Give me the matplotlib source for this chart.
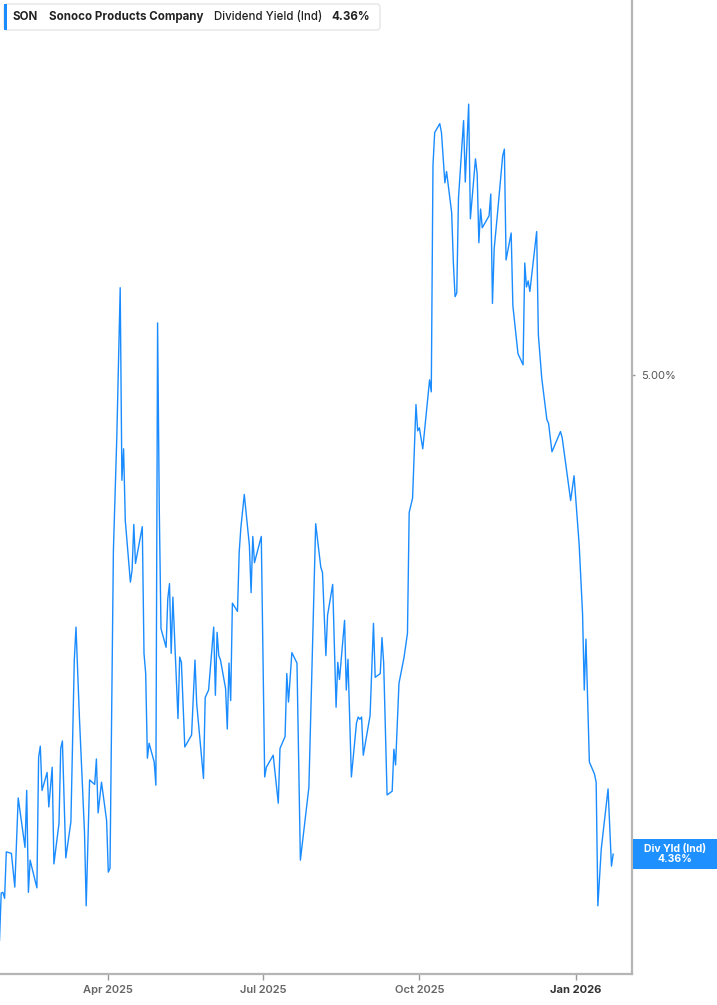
import matplotlib
matplotlib.use("Agg")
import matplotlib.pyplot as plt
from matplotlib.patches import FancyBboxPatch, Rectangle
import pandas as pd

plt.rcParams['font.family'] = ['Inter', 'DejaVu Sans']

# dividend yield (%)
dates = [
    "2025-01-27", "2025-01-28", "2025-01-29", "2025-01-30", "2025-01-31", "2025-02-03",
    "2025-02-05", "2025-02-07", "2025-02-11", "2025-02-12", "2025-02-13", "2025-02-14",
    "2025-02-18", "2025-02-19", "2025-02-20", "2025-02-21", "2025-02-24", "2025-02-25",
    "2025-02-27", "2025-02-28", "2025-03-03", "2025-03-04", "2025-03-05", "2025-03-07",
    "2025-03-10", "2025-03-12", "2025-03-13", "2025-03-15", "2025-03-18", "2025-03-19",
    "2025-03-21", "2025-03-24", "2025-03-25", "2025-03-26", "2025-03-28", "2025-03-31",
    "2025-04-01", "2025-04-02", "2025-04-04", "2025-04-06", "2025-04-08", "2025-04-09",
    "2025-04-10", "2025-04-11", "2025-04-14", "2025-04-15", "2025-04-16", "2025-04-17",
    "2025-04-21", "2025-04-22", "2025-04-23", "2025-04-24", "2025-04-25", "2025-04-28",
    "2025-04-29", "2025-04-30", "2025-05-01", "2025-05-02", "2025-05-05", "2025-05-06",
    "2025-05-07", "2025-05-08", "2025-05-09", "2025-05-12", "2025-05-13", "2025-05-14",
    "2025-05-16", "2025-05-20", "2025-05-22", "2025-05-23", "2025-05-27", "2025-05-28",
    "2025-05-30", "2025-06-02", "2025-06-03", "2025-06-04", "2025-06-05", "2025-06-06",
    "2025-06-09", "2025-06-10", "2025-06-11", "2025-06-12", "2025-06-13", "2025-06-16",
    "2025-06-17", "2025-06-18", "2025-06-20", "2025-06-23", "2025-06-24", "2025-06-25",
    "2025-06-26", "2025-06-30", "2025-07-02", "2025-07-03", "2025-07-07", "2025-07-10",
    "2025-07-11", "2025-07-14", "2025-07-15", "2025-07-16", "2025-07-18", "2025-07-21",
    "2025-07-23", "2025-07-28", "2025-08-01", "2025-08-04", "2025-08-05", "2025-08-07",
    "2025-08-08", "2025-08-11", "2025-08-13", "2025-08-14", "2025-08-15", "2025-08-18",
    "2025-08-19", "2025-08-20", "2025-08-22", "2025-08-25", "2025-08-26", "2025-08-27",
    "2025-08-28", "2025-08-29", "2025-09-02", "2025-09-04", "2025-09-05", "2025-09-08",
    "2025-09-09", "2025-09-10", "2025-09-12", "2025-09-15", "2025-09-16", "2025-09-17",
    "2025-09-19", "2025-09-22", "2025-09-24", "2025-09-25", "2025-09-27", "2025-09-29",
    "2025-09-30", "2025-10-01", "2025-10-03", "2025-10-07", "2025-10-08", "2025-10-09",
    "2025-10-10", "2025-10-13", "2025-10-14", "2025-10-16", "2025-10-17", "2025-10-20",
    "2025-10-21", "2025-10-22", "2025-10-23", "2025-10-24", "2025-10-27", "2025-10-28",
    "2025-10-30", "2025-10-31", "2025-11-03", "2025-11-04", "2025-11-05", "2025-11-06",
    "2025-11-07", "2025-11-11", "2025-11-12", "2025-11-13", "2025-11-14", "2025-11-16",
    "2025-11-19", "2025-11-20", "2025-11-21", "2025-11-24", "2025-11-25", "2025-11-28",
    "2025-12-01", "2025-12-02", "2025-12-03", "2025-12-04", "2025-12-05", "2025-12-09",
    "2025-12-10", "2025-12-12", "2025-12-15", "2025-12-16", "2025-12-18", "2025-12-23",
    "2025-12-24", "2025-12-29", "2025-12-31", "2026-01-03", "2026-01-05", "2026-01-06",
    "2026-01-07", "2026-01-09", "2026-01-12", "2026-01-13", "2026-01-14", "2026-01-16",
    "2026-01-20", "2026-01-22", "2026-01-23",
]
yield_pct = [
    4.245, 4.308, 4.309, 4.301, 4.363, 4.361,
    4.316, 4.435, 4.369, 4.445, 4.309, 4.352,
    4.315, 4.489, 4.504, 4.445, 4.469, 4.423,
    4.476, 4.347, 4.401, 4.501, 4.511, 4.355,
    4.403, 4.619, 4.663, 4.543, 4.389, 4.291,
    4.459, 4.453, 4.487, 4.415, 4.456, 4.405,
    4.336, 4.341, 4.765, 4.916, 5.116, 4.859,
    4.901, 4.805, 4.723, 4.739, 4.800, 4.748,
    4.797, 4.628, 4.601, 4.488, 4.508, 4.483,
    4.452, 5.069, 4.819, 4.661, 4.636, 4.701,
    4.721, 4.628, 4.703, 4.541, 4.623, 4.616,
    4.503, 4.519, 4.619, 4.561, 4.461, 4.569,
    4.579, 4.663, 4.572, 4.656, 4.625, 4.619,
    4.581, 4.527, 4.615, 4.565, 4.695, 4.684,
    4.763, 4.796, 4.840, 4.772, 4.709, 4.784,
    4.749, 4.784, 4.463, 4.476, 4.492, 4.428,
    4.501, 4.517, 4.601, 4.563, 4.629, 4.615,
    4.352, 4.449, 4.801, 4.743, 4.736, 4.625,
    4.679, 4.720, 4.556, 4.616, 4.593, 4.672,
    4.579, 4.620, 4.463, 4.535, 4.543, 4.540,
    4.543, 4.492, 4.545, 4.668, 4.596, 4.601,
    4.649, 4.615, 4.439, 4.444, 4.500, 4.479,
    4.588, 4.623, 4.655, 4.816, 4.835, 4.960,
    4.925, 4.929, 4.901, 4.993, 4.977, 5.279,
    5.323, 5.335, 5.323, 5.256, 5.271, 5.216,
    5.149, 5.104, 5.109, 5.235, 5.339, 5.257,
    5.361, 5.208, 5.288, 5.268, 5.176, 5.221,
    5.196, 5.212, 5.241, 5.095, 5.168, 5.216,
    5.292, 5.301, 5.153, 5.189, 5.092, 5.028,
    5.013, 5.149, 5.117, 5.125, 5.111, 5.191,
    5.053, 4.995, 4.940, 4.935, 4.897, 4.924,
    4.916, 4.832, 4.865, 4.773, 4.681, 4.579,
    4.647, 4.483, 4.467, 4.456, 4.291, 4.367,
    4.447, 4.344, 4.360,
]
tick_dates = ["2025-04-01", "2025-07-01", "2025-10-01", "2026-01-01"]
tick_labels = ["Apr 2025", "Jul 2025", "Oct 2025", "Jan 2026"]
ticker = "SON"
company = "Sonoco Products Company"
metric = "Dividend Yield (Ind)"
last_label = "4.36%"

x = pd.to_datetime(dates)
blue = "#1a8cff"

W, H = 717, 1005
fig = plt.figure(figsize=(W / 100, H / 100), dpi=100)
ax = fig.add_axes([0, 31 / H, 632 / W, 974 / H])

ax.plot(x, yield_pct, color=blue, lw=1.0)

ax.set_xlim(pd.Timestamp("2025-01-27 07:00"), pd.Timestamp("2026-02-03 02:00"))
ax.set_ylim(4.2, 5.5)

for s in ["left", "top"]:
    ax.spines[s].set_visible(False)
for s in ["right", "bottom"]:
    ax.spines[s].set_color("#b5b5b5")
    ax.spines[s].set_linewidth(1.6)

ax.set_xticks(pd.to_datetime(tick_dates))
ax.set_xticklabels(tick_labels)
ax.tick_params(axis="x", length=4, width=1, color="#999999", pad=4,
               labelsize=8, labelcolor="#666666")
for t in ax.get_xticklabels():
    t.set_fontweight("semibold")
xl = ax.get_xticklabels()
xl[-1].set_fontweight("bold")
xl[-1].set_color("#333333")

ax.yaxis.tick_right()
ax.set_yticks([5.0])
ax.set_yticklabels(["5.00%"])
ax.tick_params(axis="y", length=2.5, width=1, color="#999999", pad=4,
               labelsize=8, labelcolor="#555555")

# legend box top left
leg = FancyBboxPatch((4 / W, 1 - 30 / H), 376 / W, 26 / H,
                     boxstyle="round,pad=0,rounding_size=0.004",
                     transform=fig.transFigure, facecolor="white",
                     edgecolor="#e6e6e6", lw=1, zorder=5)
fig.add_artist(leg)
fig.add_artist(Rectangle((4 / W, 1 - 30 / H), 3 / W, 26 / H, transform=fig.transFigure,
                         facecolor=blue, edgecolor="none", zorder=6))
ly = 1 - 17 / H
fig.text(13 / W, ly, ticker, fontsize=8.3, fontweight="bold", color="#222222",
         va="center", zorder=7)
fig.text(49 / W, ly, company, fontsize=8.3, fontweight="bold", color="#222222",
         va="center", zorder=7)
fig.text(214 / W, ly, metric, fontsize=8.3, fontweight="medium", color="#222222",
         va="center", zorder=7)
fig.text(331 / W, ly, last_label, fontsize=8.3, fontweight="bold", color="#222222",
         va="center", zorder=7)

# last value tag on the right axis
fig.add_artist(Rectangle((633 / W, 1 - 869 / H), 84 / W, 30 / H, transform=fig.transFigure,
                         facecolor="#1e90ff", edgecolor="none", zorder=6))
fig.text(675 / W, 1 - 854 / H, "Div Yld (Ind)\n" + last_label, fontsize=7.5,
         fontweight="bold", color="white", ha="center", va="center",
         linespacing=1.0, zorder=7)

fig.savefig("out.png", dpi=100)
